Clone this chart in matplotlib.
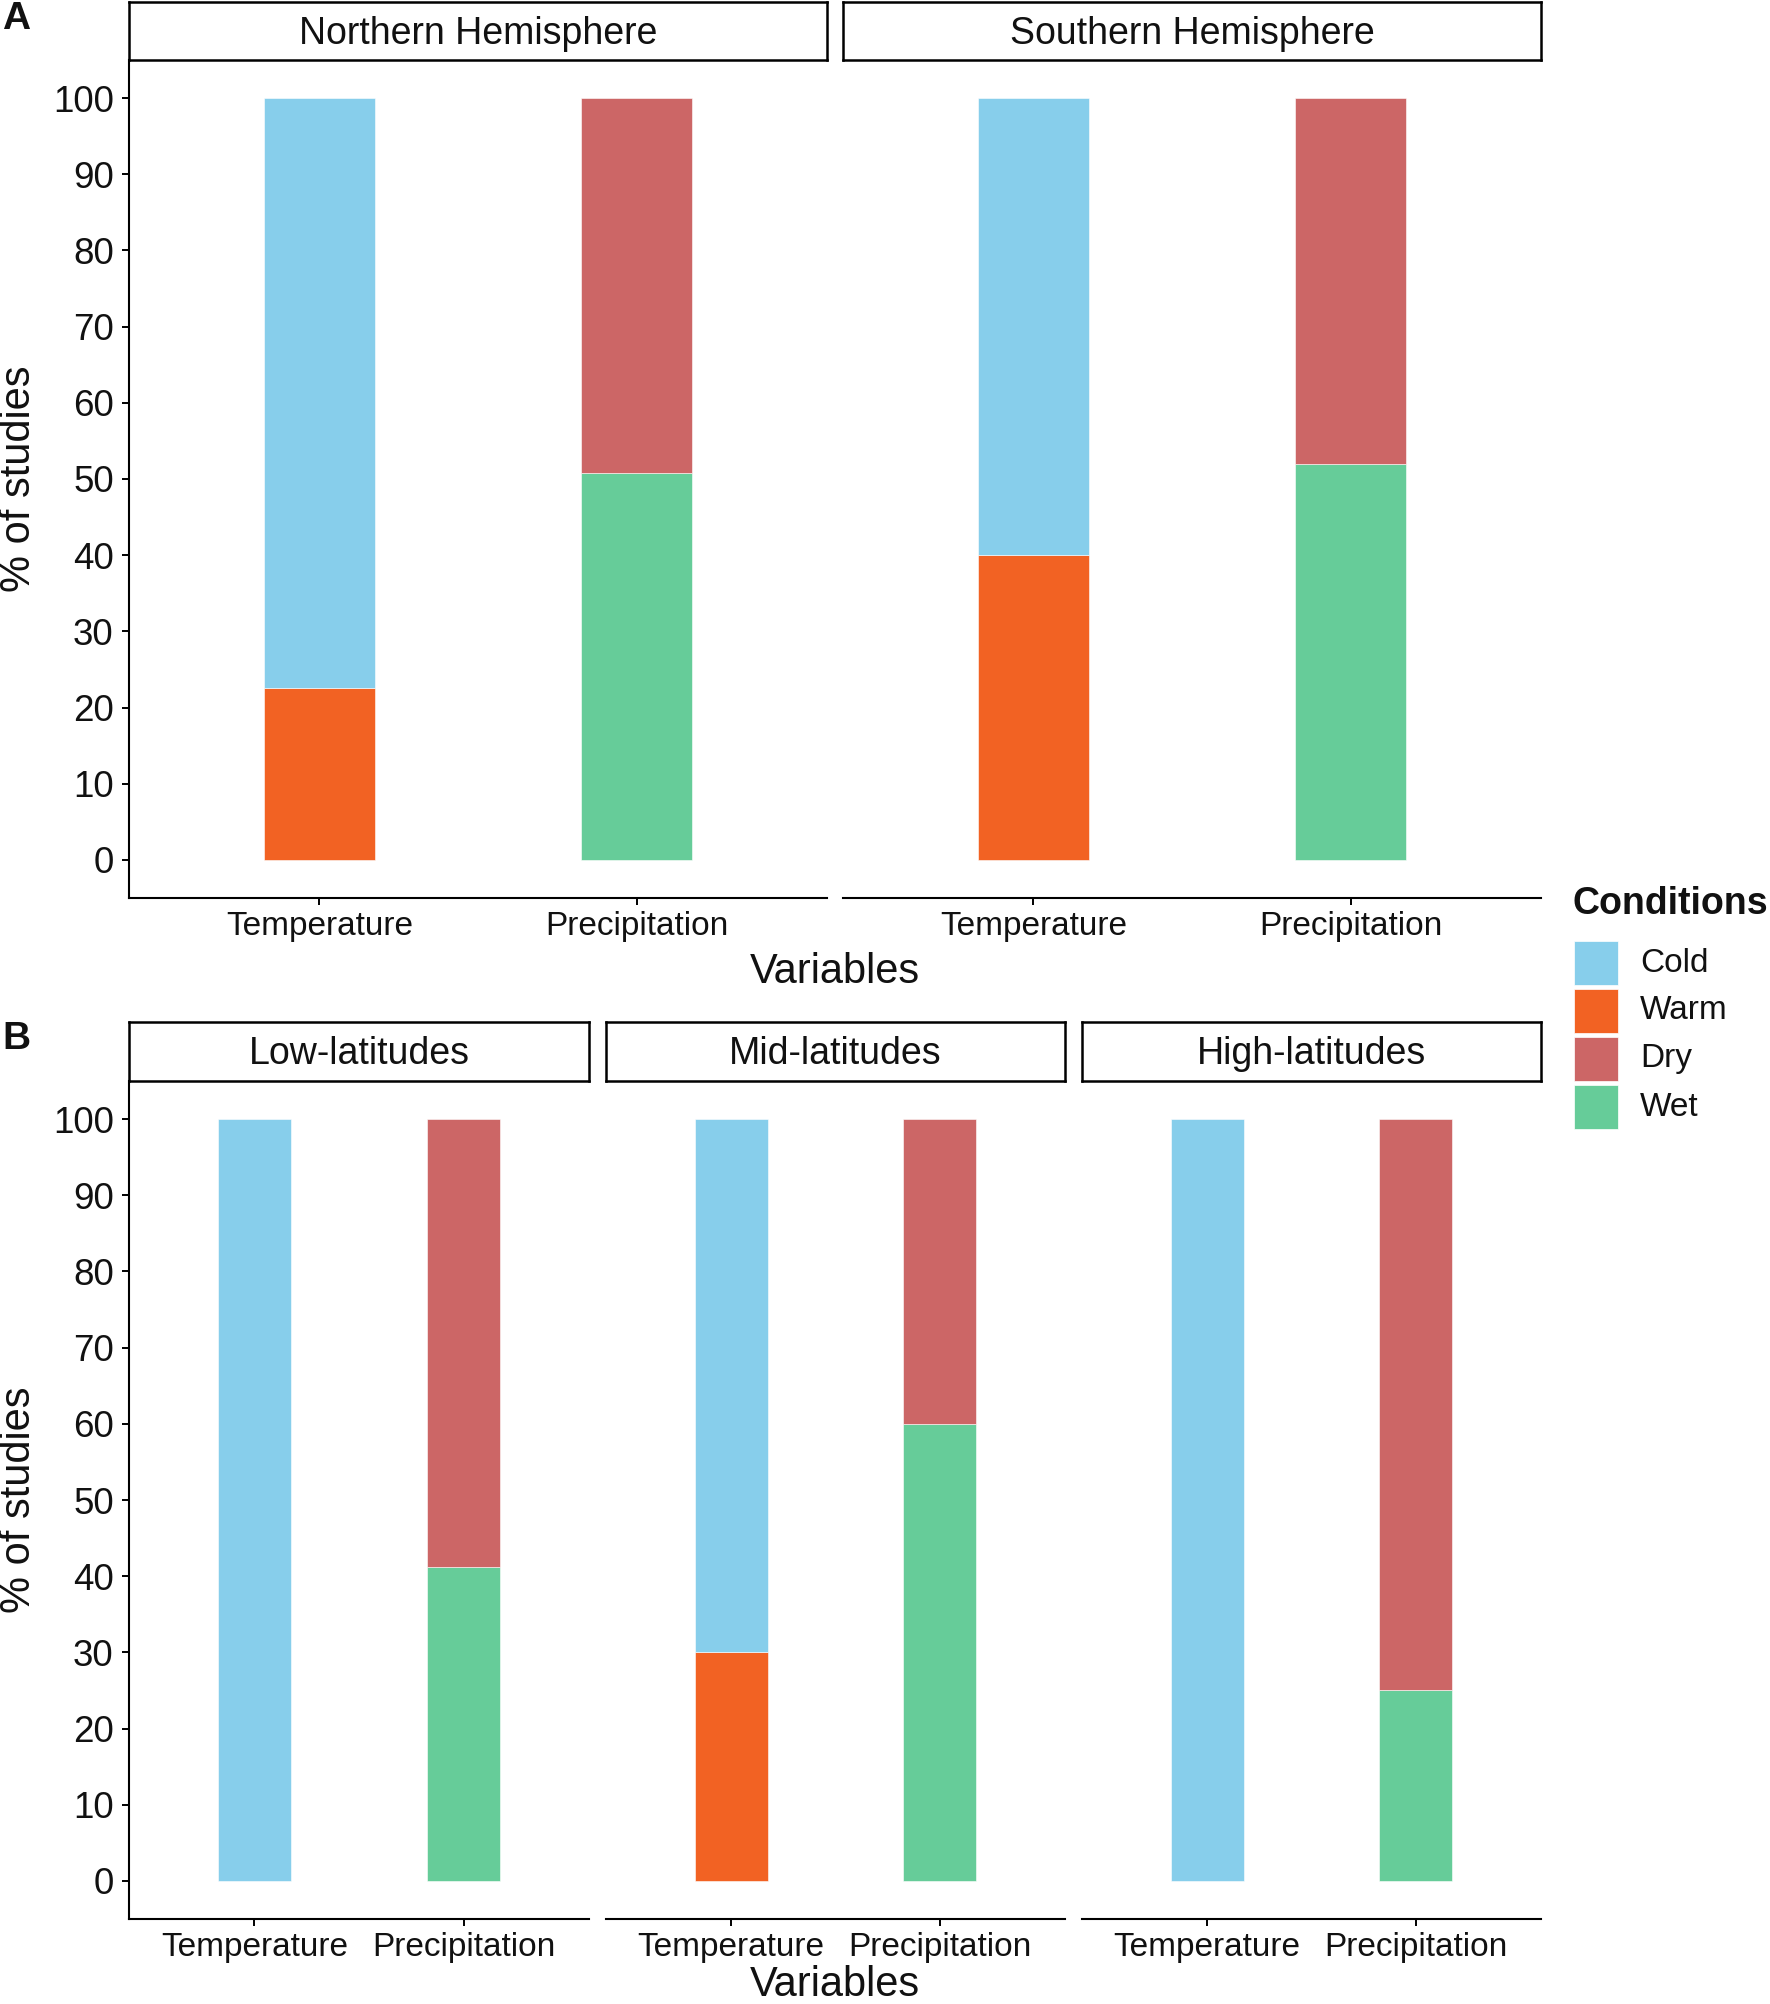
import matplotlib
matplotlib.use("Agg")
import matplotlib.pyplot as plt
from matplotlib.patches import Rectangle

plt.rcParams['font.family'] = ['Liberation Sans', 'DejaVu Sans']

W, H = 1770, 2004

variables = ["Temperature", "Precipitation"]
conditions = ["Cold", "Warm", "Dry", "Wet"]
colors = {"Cold": "#87CEEB", "Warm": "#F26223", "Dry": "#CC6666", "Wet": "#66CC99"}

regions_a = ["Northern Hemisphere", "Southern Hemisphere"]
warm_a = [22.6, 40.0]
cold_a = [77.4, 60.0]
wet_a = [50.8, 52.0]
dry_a = [49.2, 48.0]

regions_b = ["Low-latitudes", "Mid-latitudes", "High-latitudes"]
warm_b = [0.0, 30.0, 0.0]
cold_b = [100.0, 70.0, 100.0]
wet_b = [41.2, 60.0, 25.0]
dry_b = [58.8, 40.0, 75.0]

yticks = list(range(0, 101, 10))
TXT = "#111111"


def box(l, t, r, b):
    # pixel box -> figure fraction
    return [l / W, 1 - b / H, (r - l) / W, (b - t) / H]


def draw_panel(ax, warm, cold, wet, dry, first):
    w = 0.35
    ax.bar([1], [warm], width=w, color=colors["Warm"], edgecolor="white", linewidth=0.4)
    ax.bar([1], [cold], bottom=[warm], width=w, color=colors["Cold"], edgecolor="white", linewidth=0.4)
    ax.bar([2], [wet], width=w, color=colors["Wet"], edgecolor="white", linewidth=0.4)
    ax.bar([2], [dry], bottom=[wet], width=w, color=colors["Dry"], edgecolor="white", linewidth=0.4)
    ax.set_xlim(0.4, 2.6)
    ax.set_ylim(-5, 105)
    ax.set_xticks([1, 2])
    ax.set_xticklabels(variables, fontsize=24, color=TXT)
    ax.spines['top'].set_visible(False)
    ax.spines['right'].set_visible(False)
    ax.spines['bottom'].set_linewidth(1.5)
    ax.tick_params(axis='x', length=5, width=1.4, pad=4.5)
    if first:
        ax.spines['left'].set_linewidth(1.5)
        ax.set_yticks(yticks)
        ax.set_yticklabels([str(v) for v in yticks], fontsize=26.5, color=TXT)
        ax.tick_params(axis='y', length=5, width=1.4, pad=6)
    else:
        ax.spines['left'].set_visible(False)
        ax.set_yticks([])


def draw_strip(fig, l, t, r, b, label):
    sa = fig.add_axes(box(l, t, r, b))
    sa.set_xticks([])
    sa.set_yticks([])
    for s in sa.spines.values():
        s.set_linewidth(1.8)
    sa.text(0.5, 0.45, label, ha='center', va='center', fontsize=27, color=TXT,
            transform=sa.transAxes)


fig = plt.figure(figsize=(W / 100, H / 100), dpi=100)

# panel A
cols_a = [(129, 827), (843, 1541)]
for i, (l, r) in enumerate(cols_a):
    ax = fig.add_axes(box(l, 60, r, 898))
    draw_panel(ax, warm_a[i], cold_a[i], wet_a[i], dry_a[i], i == 0)
    draw_strip(fig, l, 2, r, 60, regions_a[i])

# panel B
cols_b = [(129, 589), (606, 1065), (1082, 1541)]
for i, (l, r) in enumerate(cols_b):
    ax = fig.add_axes(box(l, 1081, r, 1919))
    draw_panel(ax, warm_b[i], cold_b[i], wet_b[i], dry_b[i], i == 0)
    draw_strip(fig, l, 1022, r, 1081, regions_b[i])

# axis titles
fig.text(835 / W, 1 - 983 / H, "Variables", ha='center', va='baseline', fontsize=30, color=TXT)
fig.text(835 / W, 1 - 1996 / H, "Variables", ha='center', va='baseline', fontsize=30, color=TXT)
fig.text(19 / W, 1 - 479 / H, "% of studies", ha='center', va='center', rotation=90,
         fontsize=30, color=TXT)
fig.text(19 / W, 1 - 1500 / H, "% of studies", ha='center', va='center', rotation=90,
         fontsize=30, color=TXT)

# panel letters
fig.text(2 / W, 1 - 29 / H, "A", fontsize=28, fontweight='bold', va='baseline', color=TXT)
fig.text(2 / W, 1 - 1049 / H, "B", fontsize=28, fontweight='bold', va='baseline', color=TXT)

# legend
fig.text(1573 / W, 1 - 914 / H, "Conditions", fontsize=27, fontweight='bold', va='baseline',
         color=TXT)
key_top = 941
for k, cond in enumerate(conditions):
    t = key_top + k * 48
    fig.add_artist(Rectangle((1574 / W, 1 - (t + 44) / H), 44 / W, 44 / H,
                             transform=fig.transFigure, facecolor=colors[cond],
                             edgecolor="white", linewidth=0.5))
    fig.text(1640 / W, 1 - (t + 22) / H, cond, fontsize=24, va='center', color=TXT)

fig.savefig("out.png", dpi=100)
